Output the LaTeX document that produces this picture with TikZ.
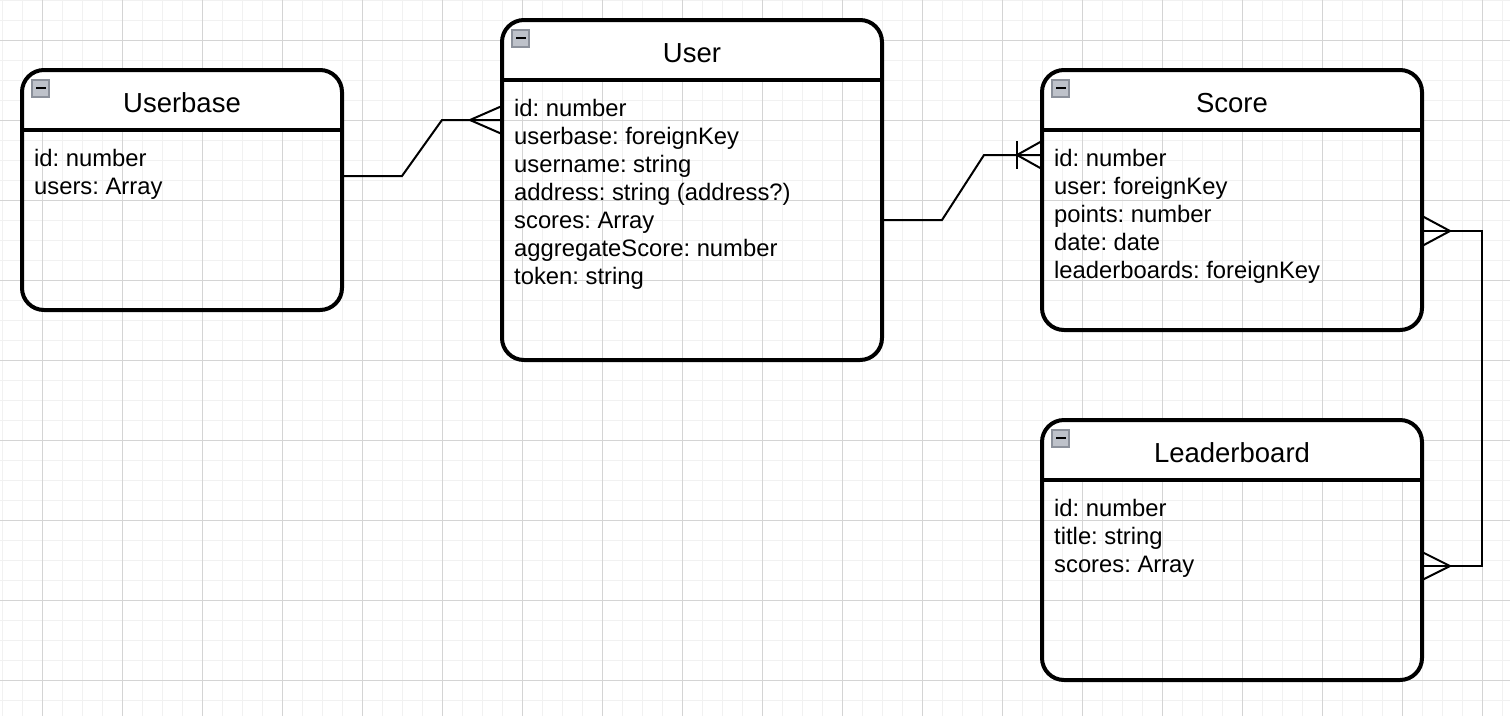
\documentclass[tikz,border=0pt]{standalone}
\usepackage{fontspec}
\setmainfont{Liberation Sans}
\usetikzlibrary{calc}
\frenchspacing

\definecolor{gridminor}{HTML}{F1F1F1}
\definecolor{gridmajor}{HTML}{D4D4D4}
\definecolor{iconfill}{HTML}{BEC2CA}
\definecolor{iconedge}{HTML}{8C919B}

\tikzset{
  erframe/.style={draw=black, line width=4pt, rounded corners=22pt,
    inner sep=0pt, outer sep=0pt},
  headline/.style={draw=black, line width=4pt},
  titletext/.style={font=\fontsize{27.5}{32}\selectfont, inner sep=0pt},
  attrtext/.style={font=\fontsize{23.8}{28}\selectfont, inner sep=0pt},
  collapse/.style={draw=iconedge, line width=1.2pt, fill=iconfill,
    minimum size=17pt, inner sep=0pt, outer sep=0pt},
  rel/.style={draw=black, line width=2pt, line join=miter},
}

% entity box: name, left, top, width, height, title, attribute rows
\newcommand\erbox[7]{%
  \begin{scope}
    \clip (#2,#3) rectangle ++(#4,60);
    \fill[white, rounded corners=22pt] (#2,#3) rectangle ++(#4,#5);
  \end{scope}
  \node[erframe, minimum width=#4pt, minimum height=#5pt, anchor=north west]
    (#1) at (#2,#3) {};
  \draw[headline] ([yshift=-60pt]#1.north west) -- ([yshift=-60pt]#1.north east);
  \node[collapse, anchor=north west] (#1-icon)
    at ([xshift=10pt,yshift=-10pt]#1.north west) {};
  \draw[line width=2pt] ([xshift=4pt,yshift=0.8pt]#1-icon.west)
    -- ([xshift=-3pt,yshift=0.8pt]#1-icon.east);
  \node[titletext, anchor=base] (#1-title) at ([yshift=-42pt]#1.north) {#6};
  \node[attrtext, anchor=base west] (#1-attrs)
    at ([xshift=12pt,yshift=-96pt]#1.north west)
    {\begin{tabular}[t]{@{}l@{}}#7\end{tabular}};
}

\begin{document}
\begin{tikzpicture}[x=1pt,y=-1pt]
  \useasboundingbox (0,0) rectangle (1510,716);
  \fill[white] (0,0) rectangle (1510,716);

  % background grid
  \foreach \x in {2,22,...,1510} \draw[gridminor, line width=1pt] (\x,0) -- (\x,716);
  \foreach \y in {0,20,...,716} \draw[gridminor, line width=1pt] (0,\y) -- (1510,\y);
  \foreach \x in {42,122,...,1510} \draw[gridmajor, line width=1pt] (\x,0) -- (\x,716);
  \foreach \y in {40,120,...,716} \draw[gridmajor, line width=1pt] (0,\y) -- (1510,\y);

  % entities
  \erbox{userbase}{22}{70}{320}{240}{Userbase}{id: number\\users: Array}
  \erbox{user}{502}{20}{380}{340}{User}{id: number\\userbase: foreignKey\\username: string\\address: string (address?)\\scores: Array\\aggregateScore: number\\token: string}
  \erbox{score}{1042}{70}{380}{260}{Score}{id: number\\user: foreignKey\\points: number\\date: date\\leaderboards: foreignKey}
  \erbox{leader}{1042}{420}{380}{260}{Leaderboard}{id: number\\title: string\\scores: Array}

  % Userbase -- many Users
  \draw[rel] ([yshift=-106pt]userbase.north east) -- ++(60,0) -- ++(40,-56)
    -- ([yshift=-100pt]user.north west);
  \draw[rel] ([yshift=-86pt]user.north west) -- ([xshift=-32pt,yshift=-100pt]user.north west)
    -- ([yshift=-114pt]user.north west);

  % User -- one or many Scores
  \draw[rel] ([yshift=-200pt]user.north east) -- ++(60,0) -- ++(42,-65)
    -- ([yshift=-85pt]score.north west);
  \draw[rel] ([yshift=-71pt]score.north west) -- ([xshift=-25pt,yshift=-85pt]score.north west)
    -- ([yshift=-99pt]score.north west);
  \draw[rel] ([xshift=-25pt,yshift=-71pt]score.north west)
    -- ([xshift=-25pt,yshift=-99pt]score.north west);

  % many Scores -- many Leaderboards
  \draw[rel] ([yshift=-161pt]score.north east) -- ++(60,0)
    |- ([yshift=-146pt]leader.north east);
  \draw[rel] ([yshift=-146pt]score.north east) -- ([xshift=28pt,yshift=-161pt]score.north east)
    -- ([yshift=-176pt]score.north east);
  \draw[rel] ([yshift=-132pt]leader.north east) -- ([xshift=28pt,yshift=-146pt]leader.north east)
    -- ([yshift=-160pt]leader.north east);
\end{tikzpicture}
\end{document}
